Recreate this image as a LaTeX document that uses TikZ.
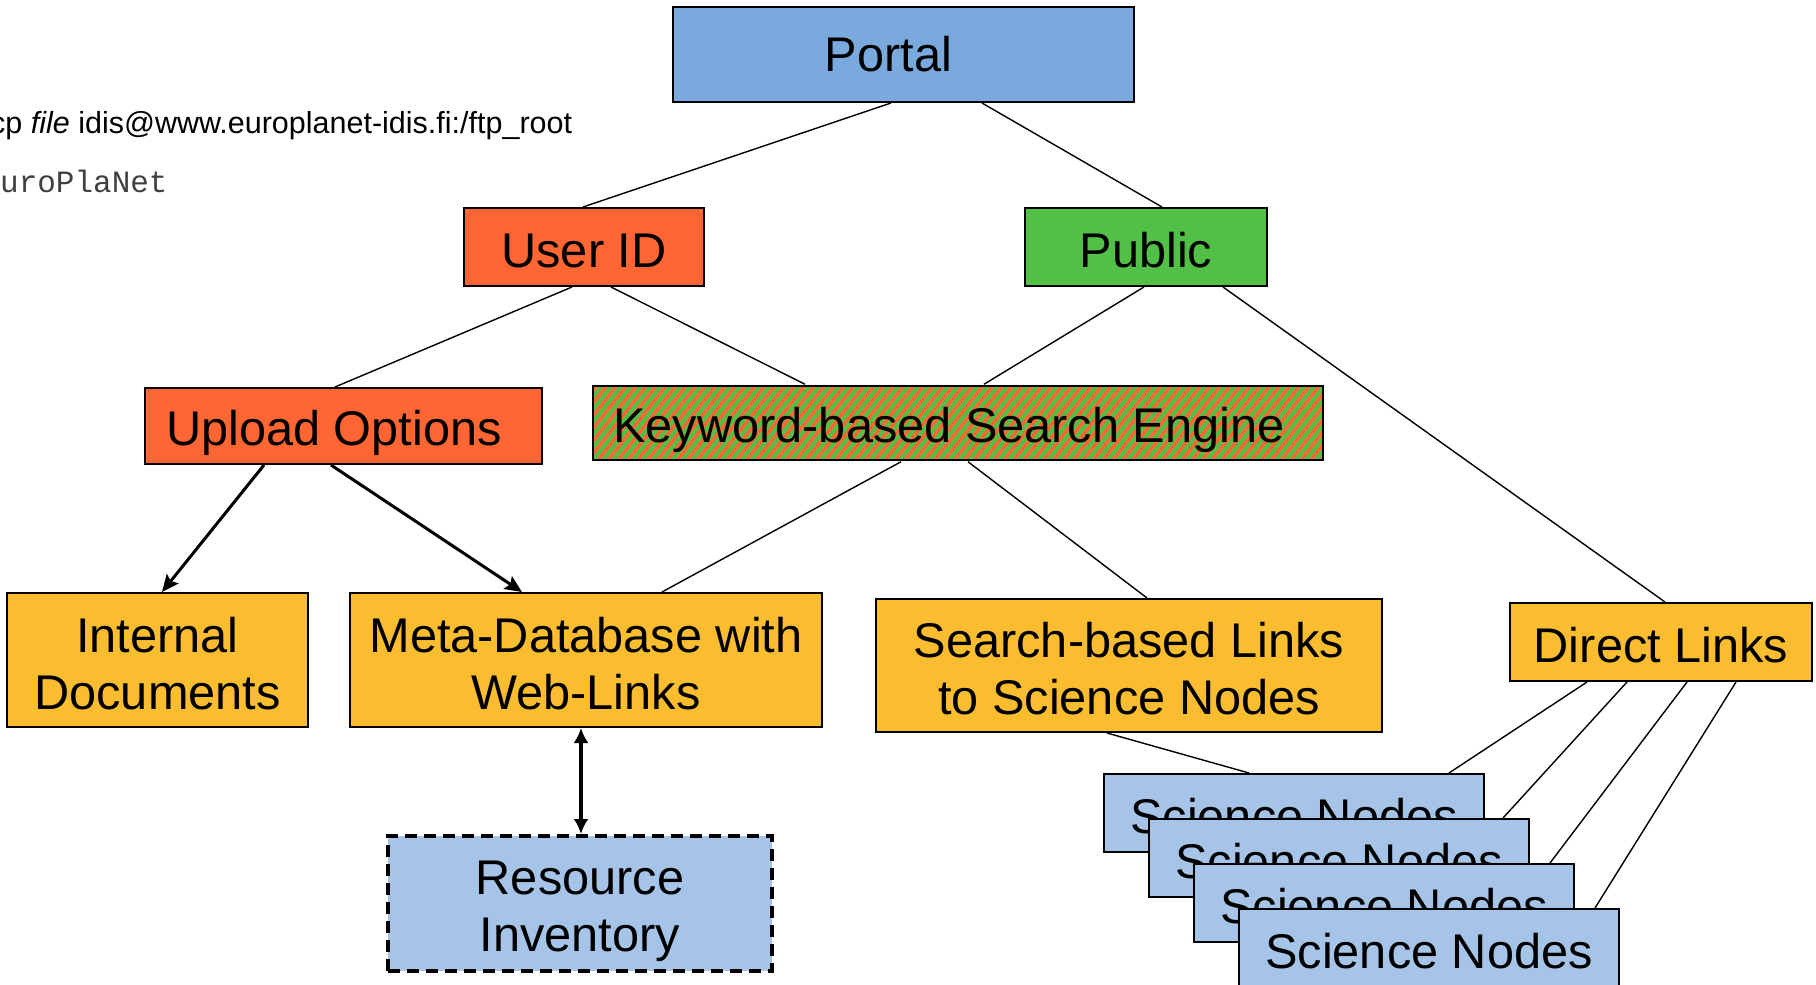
\documentclass[tikz,border=0pt]{standalone}
\usepackage{fontspec}
\setmainfont{Liberation Sans}
\newfontfamily\codefont{Liberation Mono}
\usetikzlibrary{arrows.meta,patterns.meta}
\definecolor{portalblue}{HTML}{7AAADD}
\definecolor{sciblue}{HTML}{A5C4E7}
\definecolor{userred}{HTML}{FF6633}
\definecolor{publicgreen}{HTML}{52C046}
\definecolor{linkyellow}{HTML}{FBBD30}
% line struts: give every text line the same height and depth
\newcommand\ls{\rule[-7.9pt]{0pt}{57pt}}
\newcommand\lsp{\rule[-11.9pt]{0pt}{57pt}}
\begin{document}
\begin{tikzpicture}[x=1pt,y=-1pt,
  box/.style={draw=black, line width=2pt, inner sep=0pt, align=center,
    font=\fontsize{48.7}{57}\selectfont},
  link/.style={line width=1.4pt},
  push/.style={line width=3pt, -{Stealth[length=17pt,width=15pt,inset=3pt]}},
  both/.style={line width=3.5pt, {Latex[length=15pt,width=15pt]}-{Latex[length=15pt,width=15pt]}},
  scinode/.style={box, fill=sciblue, minimum width=380pt, minimum height=78pt}]
\useasboundingbox (0,0) rectangle (1816,985);

% header text
\node[anchor=base west, inner sep=0pt, font=\fontsize{30.5}{36}\selectfont] (cmd) at (-10,133)
  {cp \textit{file} idis@www.europlanet-idis.fi:/ftp\_root};
\node[anchor=base west, inner sep=0pt, text=black!75, font=\codefont\fontsize{31}{36}\selectfont] (proj) at (0,192)
  {uroPlaNet};

% tree nodes
\node[box, fill=portalblue, minimum width=461pt, minimum height=95pt] (portal) at (903.5,54.5) {\lsp Portal\kern30pt};
\node[box, fill=userred, minimum width=240pt, minimum height=78pt] (userid) at (584,247) {\ls User ID};
\node[box, fill=publicgreen, minimum width=242pt, minimum height=78pt] (public) at (1146,247) {\ls Public};
\node[box, fill=userred, minimum width=397pt, minimum height=76pt] (upload) at (343.5,426) {\ls Upload Options\kern19pt};
\node[box, preaction={fill=publicgreen},
  pattern={Lines[angle=52,distance=7.8pt,line width=3.5pt]}, pattern color=userred,
  minimum width=730pt, minimum height=74pt] (keyword) at (958,423) {\ls Keyword-based Search Engine\kern18pt};
\node[box, fill=linkyellow, minimum width=301pt, minimum height=134pt] (internal) at (157.5,660)
  {\ls Internal\\Documents\ls};
\node[box, fill=linkyellow, minimum width=472pt, minimum height=134pt] (meta) at (586,660)
  {\ls Meta-Database with\\Web-Links\ls};
\node[box, fill=linkyellow, minimum width=506pt, minimum height=133pt] (search) at (1129,665.5)
  {\ls Search-based Links\\to Science Nodes\ls};
\node[box, fill=linkyellow, minimum width=302pt, minimum height=78pt] (direct) at (1661,642) {\ls Direct Links};
\node[box, fill=sciblue, line width=4pt, dash pattern=on 12pt off 7pt,
  minimum width=384pt, minimum height=135pt] (resource) at (580,903.5) {\ls Resource\\Inventory\ls};

% stacked science nodes
\node[scinode] (sci1) at (1294,813) {\ls Science Nodes};
\node[scinode] (sci2) at (1339,858) {\ls Science Nodes};
\node[scinode] (sci3) at (1384,903) {\ls Science Nodes};
\node[scinode] (sci4) at (1429,948) {\ls Science Nodes};

% connectors
\draw[link] ([xshift=-12.5pt]portal.south) -- ([xshift=-1pt]userid.north);
\draw[link] ([xshift=78.5pt]portal.south) -- ([xshift=16pt]public.north);
\draw[link] ([xshift=-12pt]userid.south) -- ([xshift=-8.5pt]upload.north);
\draw[link] ([xshift=27pt]userid.south) -- ([xshift=-153pt]keyword.north);
\draw[link] ([xshift=-2pt]public.south) -- ([xshift=26pt]keyword.north);
\draw[link] ([xshift=77pt]public.south) -- ([xshift=4pt]direct.north);
\draw[push] ([xshift=-79.5pt]upload.south) -- ([xshift=4.5pt]internal.north);
\draw[push] ([xshift=-12.5pt]upload.south) -- ([xshift=-64pt]meta.north);
\draw[link] ([xshift=-57pt]keyword.south) -- ([xshift=76pt]meta.north);
\draw[link] ([xshift=10pt]keyword.south) -- ([xshift=18pt]search.north);
\draw[both] ([xshift=-5pt]meta.south) -- ([xshift=1pt]resource.north);
\draw[link] ([xshift=-22pt]search.south) -- ([xshift=-45pt]sci1.north);
\draw[link] ([xshift=-74pt]direct.south) -- ([xshift=155pt]sci1.north);
\draw[link] ([xshift=-34pt]direct.south) -- ([xshift=164pt]sci2.north);
\draw[link] ([xshift=26pt]direct.south) -- ([xshift=166pt]sci3.north);
\draw[link] ([xshift=75pt]direct.south) -- ([xshift=166pt]sci4.north);
\end{tikzpicture}
\end{document}
